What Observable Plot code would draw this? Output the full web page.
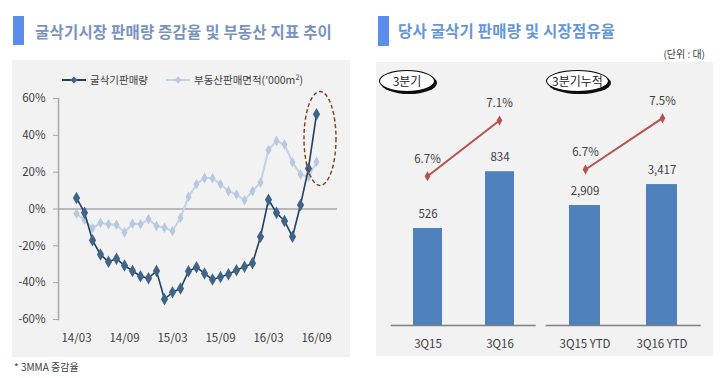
<!DOCTYPE html>
<html><head><meta charset="utf-8">
<script src="https://cdn.jsdelivr.net/npm/d3@7"></script>
<script src="https://cdn.jsdelivr.net/npm/@observablehq/plot@0.6"></script>
<style>
body{margin:0;width:720px;height:378px;position:relative;background:#fff;font-family:"Noto Sans CJK KR","Noto Sans",sans-serif;overflow:hidden;color:#404040}
.abs{position:absolute}
.mark{position:absolute;width:11px;background:#5b8def}
.title{position:absolute;font-size:15.5px;font-weight:bold;white-space:nowrap;line-height:20px;letter-spacing:0.2px}
.oval{position:absolute;height:20px;border:1px solid #000;border-radius:50%;background:#fff;box-shadow:2px 2px 0 #111;font-size:12px;line-height:20px;text-align:center;color:#222}
.leg{position:absolute;font-size:10.5px;color:#404040;white-space:nowrap;display:flex;align-items:center}
</style></head><body>
<div id="root"></div>
<script>
// ---------- data ----------
const months = ["14/03","14/04","14/05","14/06","14/07","14/08","14/09","14/10","14/11","14/12",
  "15/01","15/02","15/03","15/04","15/05","15/06","15/07","15/08","15/09","15/10","15/11","15/12",
  "16/01","16/02","16/03","16/04","16/05","16/06","16/07","16/08","16/09"];
const monthTicks = ["14/03","14/09","15/03","15/09","16/03","16/09"];
const yTicks = [-60,-40,-20,0,20,40,60];
const excavatorYoY = [6,-2,-17,-24.7,-28.7,-27,-30.7,-33.6,-36.5,-37.6,-33.6,-49,-45.2,-43.2,-33.8,-31.6,-35,-38.3,-36.9,-35.4,-33.3,-31.3,-29.5,-15.1,5,-2.1,-6.5,-15.1,2.2,22,51.5];
const realEstateYoY = [-2.5,-6,-10.4,-7.5,-8.3,-8.6,-12.7,-8,-8.3,-5.6,-9.2,-10.2,-11.9,-4.8,6.6,13.4,16.9,16.7,13.5,9.7,7.9,4.8,9.7,14.4,32,37,35,25.4,18.8,17.5,25.6];
const seriesNames = ["굴삭기판매량","부동산판매면적('000m²)"];

const quarterCats = ["3Q15","3Q16"];
const quarterUnits = [526, 834];
const quarterShare = [6.7, 7.1];
const ytdCats = ["3Q15 YTD","3Q16 YTD"];
const ytdUnits = [2909, 3417];
const ytdShare = [6.7, 7.5];

const FONT = '"Noto Sans CJK KR","Noto Sans",sans-serif';
const root = document.getElementById("root");
function add(html){ root.insertAdjacentHTML("beforeend", html); }

// ---------- headers ----------
add(`<div class="mark" style="left:13px;top:16px;height:29px"></div>`);
add(`<div class="title" style="left:35px;top:21px;color:#7892c2">굴삭기시장 판매량 증감율 및 부동산 지표 추이</div>`);
add(`<div class="mark" style="left:378px;top:16px;height:30px"></div>`);
add(`<div class="title" style="left:398px;top:20px;color:#6496d8">당사 굴삭기 판매량 및 시장점유율</div>`);
add(`<div class="abs" style="right:15px;top:46px;font-size:10px;color:#404040">(단위 : 대)</div>`);
add(`<div class="abs" style="left:14px;top:359px;font-size:10px;color:#404040">* 3MMA 증감율</div>`);

// ---------- left chart ----------
const rows = months.map((m,i)=>({m, a: excavatorYoY[i], b: realEstateYoY[i]}));
const darkLine = "#243f5c", darkDot = "#3e6488", lightLine = "#c4d2e5", lightDot = "#b7c8df";
const left = Plot.plot({
  width: 338, height: 297,
  marginTop: 38, marginBottom: 38, marginLeft: 46, marginRight: 13,
  style: {background:"#f2f2f2", fontFamily: FONT, fontSize:"11.5px", color:"#404040"},
  x: {type:"point", domain: months, insetLeft: 4, insetRight: 6.5, label: null},
  y: {domain: [-60, 60], label: null},
  marks: [
    Plot.ruleY([0], {stroke:"#a6a6a6", strokeWidth:1.5}),
    Plot.frame({anchor:"left", stroke:"#a6a6a6", strokeWidth:1.5}),
    Plot.axisY({ticks: yTicks, tickFormat: d => d + "%", tickSize: 5, tickPadding: 8, stroke:"#a6a6a6", fill:"#404040", label:null}),
    Plot.axisX({ticks: monthTicks, tickSize: 0, tickPadding: 14, fill:"#404040", label:null}),
    Plot.line(rows, {x:"m", y:"b", stroke: lightLine, strokeWidth: 2}),
    Plot.dot(rows, {x:"m", y:"b", symbol:"diamond", r:3.2, fill: lightDot}),
    Plot.line(rows, {x:"m", y:"a", stroke: darkLine, strokeWidth: 1.6}),
    Plot.dot(rows, {x:"m", y:"a", symbol:"diamond", r:3.8, fill: darkDot})
  ]
});
const lw = document.createElement("div");
lw.className = "abs"; lw.style.left = "12px"; lw.style.top = "60px";
lw.appendChild(left);
root.appendChild(lw);

// dashed ellipse annotation around the last two months
{
  const sx = left.scale("x"), sy = left.scale("y");
  const n = months.length;
  const step = sx.apply(months[n-1]) - sx.apply(months[n-2]);
  const cx = sx.apply(months[n-1]) + 0.5 * step;
  const cy = sy.apply(38);
  const ry = sy.apply(12.5) - sy.apply(38);
  d3.select(left).append("ellipse")
    .attr("cx", cx).attr("cy", cy).attr("rx", 2 * step).attr("ry", ry)
    .attr("fill", "none").attr("stroke", "#7a3f12").attr("stroke-width", 1.4)
    .attr("stroke-dasharray", "4,2.5");
}

// legend
function swatch(line, dot){
  return `<svg width="24" height="10" style="margin-right:4px"><line x1="0" y1="5" x2="24" y2="5" stroke="${line}" stroke-width="2"/><path d="M12,1.5L15.5,5L12,8.5L8.5,5Z" fill="${dot}"/></svg>`;
}
add(`<div class="leg" style="left:62px;top:72px">${swatch(darkLine, darkDot)}${seriesNames[0]}</div>`);
add(`<div class="leg" style="left:166px;top:72px">${swatch(lightLine, lightDot)}${seriesNames[1]}</div>`);

// ---------- right panel ----------
add(`<div class="abs" style="left:376px;top:62px;width:337px;height:294px;background:#f2f2f2"></div>`);

function subChart(cats, units, share, opts){
  const data = cats.map((c,i)=>({c, v: units[i], s: share[i]}));
  const common = {
    width: opts.width, height: 294, marginTop: 20, marginBottom: 31,
    marginLeft: opts.ml, marginRight: opts.mr,
    style: {background:"transparent", fontFamily: FONT, fontSize:"11.5px", color:"#404040"}
  };
  const xs = {domain: cats, paddingInner: opts.pi, paddingOuter: opts.po, label: null};
  const bars = Plot.plot({
    ...common,
    x: xs,
    y: {domain: [0, opts.yMax], axis: null},
    marks: [
      Plot.barY(data, {x:"c", y:"v", fill:"#4f81bd"}),
      Plot.ruleY([0], {stroke:"#808080", strokeWidth:1.5}),
      Plot.text(data, {x:"c", y:"v", text: d => d3.format(",")(d.v), dy: -14, fill:"#404040"}),
      Plot.axisX({tickSize: 0, tickPadding: 14, fill:"#404040", label: null})
    ]
  });
  const line = Plot.plot({
    ...common,
    x: {...xs, axis: null},
    y: {domain: opts.shareDomain, axis: null},
    marks: [
      Plot.line(data, {x:"c", y:"s", stroke:"#b5524f", strokeWidth:2}),
      Plot.dot(data, {x:"c", y:"s", symbol:"diamond", r:3, fill:"#b5524f"}),
      Plot.text(data, {x:"c", y:"s", text: d => d.s.toFixed(1) + "%", dy: -17, fill:"#404040"})
    ]
  });
  for (const svg of [bars, line]) {
    const w = document.createElement("div");
    w.className = "abs"; w.style.left = opts.left + "px"; w.style.top = "62px";
    w.appendChild(svg);
    root.appendChild(w);
  }
}
subChart(quarterCats, quarterUnits, quarterShare,
  {left: 376, width: 164, ml: 14.7, mr: 4.3, pi: 0.6, po: 0.3, yMax: 1318, shareDomain: [5.628, 7.373]});
subChart(ytdCats, ytdUnits, ytdShare,
  {left: 540, width: 173, ml: 5.7, mr: 12.3, pi: 0.6, po: 0.3, yMax: 5891, shareDomain: [4.266, 8.057]});

add(`<div class="oval" style="left:379px;top:70px;width:54px">3분기</div>`);
add(`<div class="oval" style="left:546px;top:70px;width:61px">3분기누적</div>`);
</script>
</body></html>
